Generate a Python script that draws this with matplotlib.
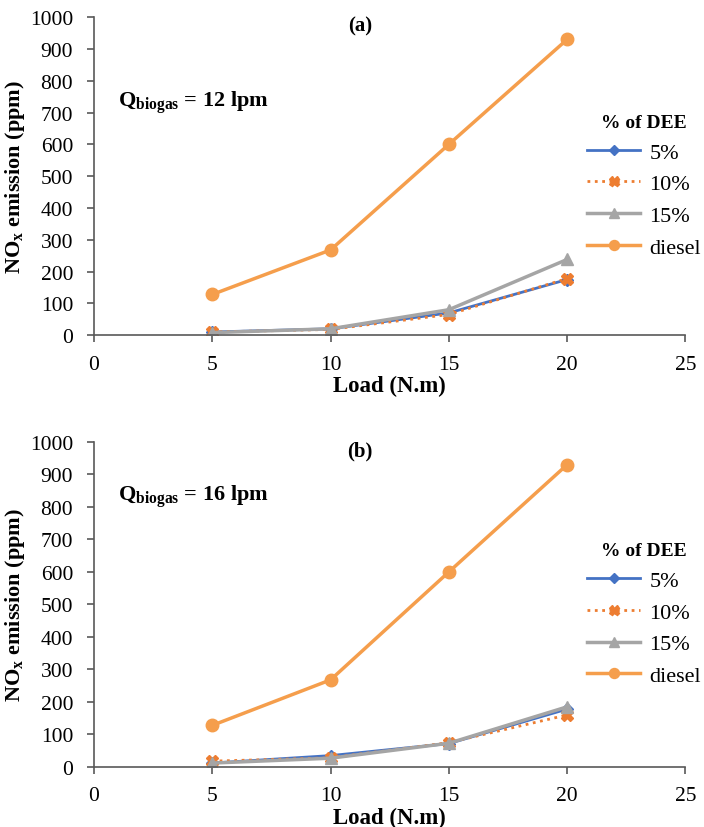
import matplotlib
matplotlib.use('Agg')
import matplotlib.pyplot as plt

plt.rcParams['font.family'] = ['Liberation Serif', 'DejaVu Serif']
plt.rcParams['mathtext.fontset'] = 'custom'
plt.rcParams['mathtext.rm'] = 'Liberation Serif'
plt.rcParams['mathtext.bf'] = 'Liberation Serif:bold'

load = [5, 10, 15, 20]

# panel (a), Q biogas = 12 lpm
a_dee5 = [10, 20, 70, 175]
a_dee10 = [10, 18, 65, 178]
a_dee15 = [8, 20, 80, 238]
a_diesel = [128, 268, 600, 930]

# panel (b), Q biogas = 16 lpm
b_dee5 = [12, 35, 72, 178]
b_dee10 = [18, 28, 75, 160]
b_dee15 = [12, 27, 73, 185]
b_diesel = [128, 268, 600, 930]

panels = [
    ('(a)', '12', a_dee5, a_dee10, a_dee15, a_diesel),
    ('(b)', '16', b_dee5, b_dee10, b_dee15, b_diesel),
]

fig = plt.figure(figsize=(7.04, 8.28), dpi=100)
positions = [[0.1335, 0.594, 0.84, 0.384], [0.1335, 0.0725, 0.84, 0.3925]]
q_pos = [0.733, 0.834]

for i, (tag, q, d5, d10, d15, dsl) in enumerate(panels):
    ax = fig.add_axes(positions[i])
    ax.plot(load, d5, color='#4472C4', marker='D', markersize=6, lw=2, label='5%')
    ax.plot(load, d10, color='#ED7D31', marker='X', markersize=9, lw=2,
            linestyle=':', label='10%')
    ax.plot(load, d15, color='#A5A5A5', marker='^', markersize=9, lw=2.5, label='15%')
    ax.plot(load, dsl, color='#F59E4C', marker='o', markersize=9, lw=2.5, label='diesel')

    ax.set_xlim(0, 25)
    ax.set_ylim(0, 1000)
    ax.set_xticks([0, 5, 10, 15, 20, 25])
    ax.set_yticks(range(0, 1001, 100))
    for s in ['top', 'right']:
        ax.spines[s].set_visible(False)
    for s in ['left', 'bottom']:
        ax.spines[s].set_color('#595959')
        ax.spines[s].set_linewidth(1.2)
    ax.tick_params(labelsize=15.5, color='#595959', length=5, width=1.2)
    ax.tick_params(axis='x', pad=9)
    ax.tick_params(axis='y', pad=10)

    ax.set_xlabel('Load (N.m)', fontsize=16.5, fontweight='bold', labelpad=1)
    ax.set_ylabel(r'NO$_{\mathbf{x}}$ emission (ppm)', fontsize=16, fontweight='bold', labelpad=2)

    ax.text(0.45, 1.005, tag, transform=ax.transAxes, fontsize=15,
            fontweight='bold', ha='center', va='top')
    ax.text(0.04, q_pos[i], r'$\mathbf{Q_{biogas}}$' + ' = ' + q + ' lpm',
            transform=ax.transAxes, fontsize=16, fontweight='bold', va='center')

    leg = ax.legend(loc='center left', bbox_to_anchor=(0.8, 0.47), frameon=False,
                    prop={'family': 'Liberation Serif', 'size': 16},
                    title='% of DEE',
                    title_fontproperties={'family': 'Liberation Serif', 'size': 14,
                                          'weight': 'bold'},
                    handlelength=2.4, labelspacing=0.5, handletextpad=0.4,
                    markerscale=0.8)

fig.savefig('out.png', dpi=100)
